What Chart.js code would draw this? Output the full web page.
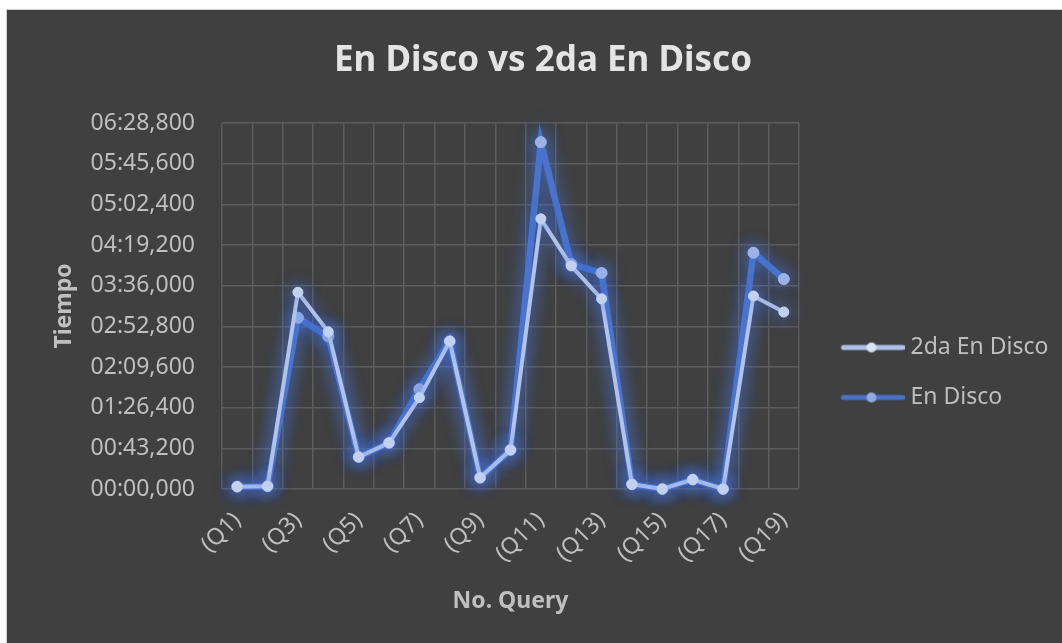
<!DOCTYPE html>
<html lang="es">
<head>
    <meta charset="UTF-8">
    <title>En Disco vs 2da En Disco</title>
    <script src="https://cdn.jsdelivr.net/npm/chart.js@4"></script>
    <style>
        body {
            margin: 0;
            background: #ffffff;
        }
        #wrap {
            position: absolute;
            left: 6px;
            top: 9px;
            width: 1056px;
            height: 634px;
            background: #404040;
            border-left: 1px solid #d0d0d0;
            border-top: 1px solid #d0d0d0;
        }
    </style>
</head>
<body>
    <div id="wrap"><canvas id="chart"></canvas></div>

<script>
// datos (segundos)
const queries = ['(Q1)', '(Q2)', '(Q3)', '(Q4)', '(Q5)', '(Q6)', '(Q7)', '(Q8)', '(Q9)', '(Q10)',
                 '(Q11)', '(Q12)', '(Q13)', '(Q14)', '(Q15)', '(Q16)', '(Q17)', '(Q18)', '(Q19)'];
const segundaEnDisco = [2.5, 3, 209, 167, 34, 49, 97, 157, 12, 41.5, 287, 237, 202, 5, 0, 10, 0, 205, 188];
const enDisco = [2.5, 3, 182, 162, 34, 49, 106, 157, 12, 41.5, 368.5, 239, 229.5, 5, 0, 10, 0, 251, 223];
const yMax = 388.8;
const yStep = 43.2;

const pad = (n, w) => String(n).padStart(w, '0');

// 388.8 -> "06:28,800"
const formatTiempo = (v) => {
    const ms = Math.round(v * 1000);
    const m = Math.floor(ms / 60000);
    const s = Math.floor((ms % 60000) / 1000);
    return pad(m, 2) + ':' + pad(s, 2) + ',' + pad(ms % 1000, 3);
};

// marcador de la leyenda: linea con punto
function legendMark(lineColor, dotColor) {
    const c = document.createElement('canvas');
    c.width = 84;
    c.height = 14;
    const g = c.getContext('2d');
    g.strokeStyle = lineColor;
    g.lineWidth = 5;
    g.lineCap = 'round';
    g.beginPath();
    g.moveTo(23, 7);
    g.lineTo(82, 7);
    g.stroke();
    g.fillStyle = dotColor;
    g.beginPath();
    g.arc(51, 7, 5, 0, Math.PI * 2);
    g.fill();
    return c;
}

const marks = [legendMark('#afc1e8', '#dbe4f6'), legendMark('#4a72c4', '#8fabe0')];

// brillo azul alrededor de las lineas
const glow = {
    id: 'glow',
    beforeDatasetDraw(chart) {
        const ctx = chart.ctx;
        ctx.save();
        ctx.shadowColor = 'rgba(70, 120, 235, 0.9)';
        ctx.shadowBlur = 18;
    },
    afterDatasetDraw(chart) {
        chart.ctx.restore();
    }
};

// ancho fijo para la leyenda
const legendWidth = {
    id: 'legendWidth',
    beforeLayout(chart) {
        const lg = chart.legend;
        if (lg && !lg._fixed) {
            const fit = lg.fit.bind(lg);
            lg.fit = function () { fit(); this.width = 264; };
            lg._fixed = true;
        }
    }
};

const textColor = '#bfbfbf';
const gridColor = '#5c5c5c';
const font = 'Noto Sans';

new Chart(document.getElementById('chart'), {
    type: 'line',
    data: {
        labels: queries,
        datasets: [{
            label: '2da En Disco',
            data: segundaEnDisco,
            borderColor: '#b3c3e8',
            borderWidth: 4,
            pointRadius: 5,
            pointBackgroundColor: '#c8d5f1',
            pointBorderColor: '#c8d5f1',
            pointBorderWidth: 1,
            tension: 0,
            clip: false
        }, {
            label: 'En Disco',
            data: enDisco,
            borderColor: '#4a74cc',
            borderWidth: 6.5,
            pointRadius: 5.5,
            pointBackgroundColor: '#9fb6e8',
            pointBorderColor: '#9fb6e8',
            pointBorderWidth: 1,
            tension: 0,
            clip: false
        }]
    },
    options: {
        responsive: true,
        maintainAspectRatio: false,
        animation: false,
        layout: { padding: { left: 16, right: 0, top: 0, bottom: 0 } },
        plugins: {
            title: {
                display: true,
                text: 'En Disco vs 2da En Disco',
                color: '#e4e4e4',
                font: { family: font, size: 35, weight: 'bold' },
                padding: { top: 30.5, bottom: 40.5 }
            },
            legend: {
                position: 'right',
                title: {
                    display: true,
                    text: ' ',
                    font: { size: 10 },
                    padding: { top: 0, bottom: 79 }
                },
                labels: {
                    color: textColor,
                    font: { family: font, size: 23 },
                    usePointStyle: true,
                    pointStyleWidth: 73,
                    padding: 27,
                    generateLabels(chart) {
                        const items = Chart.defaults.plugins.legend.labels.generateLabels(chart);
                        items.forEach((it, i) => { it.pointStyle = marks[i]; });
                        return items;
                    }
                }
            },
            tooltip: { enabled: false }
        },
        scales: {
            x: {
                offset: true,
                afterFit(s) { s.height = 155; },
                grid: { color: gridColor, lineWidth: 1.5, offset: true, drawTicks: false },
                border: { display: false },
                ticks: {
                    color: textColor,
                    font: { family: font, size: 23 },
                    autoSkip: false,
                    minRotation: 45,
                    maxRotation: 45,
                    padding: 18,
                    callback: (v, i) => (i % 2 === 0 ? queries[i] : '')
                },
                title: {
                    display: true,
                    text: 'No. Query',
                    color: textColor,
                    font: { family: font, size: 23, weight: 'bold' },
                    padding: { top: 0, bottom: 29 }
                }
            },
            y: {
                min: 0,
                max: yMax,
                afterFit(s) { s.width = 199; },
                grid: { color: gridColor, lineWidth: 1.5, drawTicks: false },
                border: { display: false },
                ticks: {
                    stepSize: yStep,
                    color: textColor,
                    font: { family: font, size: 23 },
                    padding: 27,
                    callback: (v) => formatTiempo(v)
                },
                title: {
                    display: true,
                    text: 'Tiempo',
                    color: textColor,
                    font: { family: font, size: 23, weight: 'bold' },
                    padding: { top: 27.7, bottom: 0 }
                }
            }
        }
    },
    plugins: [glow, legendWidth]
});
</script>
</body>
</html>
